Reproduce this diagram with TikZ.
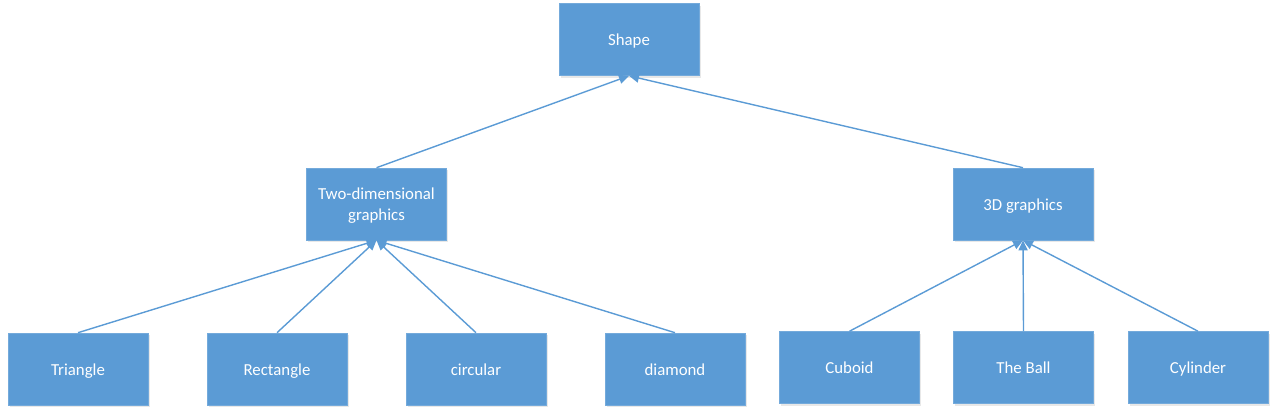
\documentclass[tikz,border=0pt]{standalone}
\usepackage{fontspec}
\setmainfont{Carlito}
\usetikzlibrary{arrows.meta,shadows}
\definecolor{boxblue}{HTML}{5B9BD5}
\definecolor{lineblue}{HTML}{5B9BD5}
\begin{document}
\begin{tikzpicture}[x=1pt,y=-1pt,
  box/.style={fill=boxblue, draw=boxblue!85!white, line width=0.6pt,
    minimum width=140pt, minimum height=72pt, inner sep=0pt,
    text=white, align=center, font=\fontsize{16.8}{21.5}\selectfont,
    drop shadow={opacity=0.18, shadow xshift=1.5pt, shadow yshift=-2pt}},
  oneline/.style={box, text height=13pt, text depth=1pt},
  link/.style={draw=lineblue, line width=1.4pt, -{Triangle[length=10pt,width=9pt]}}]
\useasboundingbox (0,0) rectangle (1278,416);
\node[oneline] (shape) at (629,39.5) {Shape};
\node[box, text depth=0pt] (two) at (376.5,204) {Two-dimensional\\graphics};
\node[oneline] (three) at (1023,204) {3D graphics};
\node[oneline] (tri) at (78,369) {Triangle};
\node[oneline] (rect) at (277,369) {Rectangle};
\node[oneline] (circ) at (476,369) {circular};
\node[oneline] (dia) at (675,369) {diamond};
\node[oneline] (cub) at (849.5,367.5) {Cuboid};
\node[oneline] (ball) at (1023.5,367.5) {The Ball};
\node[oneline] (cyl) at (1198,367.5) {Cylinder};
\draw[link] (two.north) -- (shape.south);
\draw[link] (three.north) -- (shape.south);
\draw[link] (tri.north) -- (two.south);
\draw[link] (rect.north) -- (two.south);
\draw[link] (circ.north) -- (two.south);
\draw[link] (dia.north) -- (two.south);
\draw[link] (cub.north) -- (three.south);
\draw[link] (ball.north) -- (three.south);
\draw[link] (cyl.north) -- (three.south);
\end{tikzpicture}
\end{document}
